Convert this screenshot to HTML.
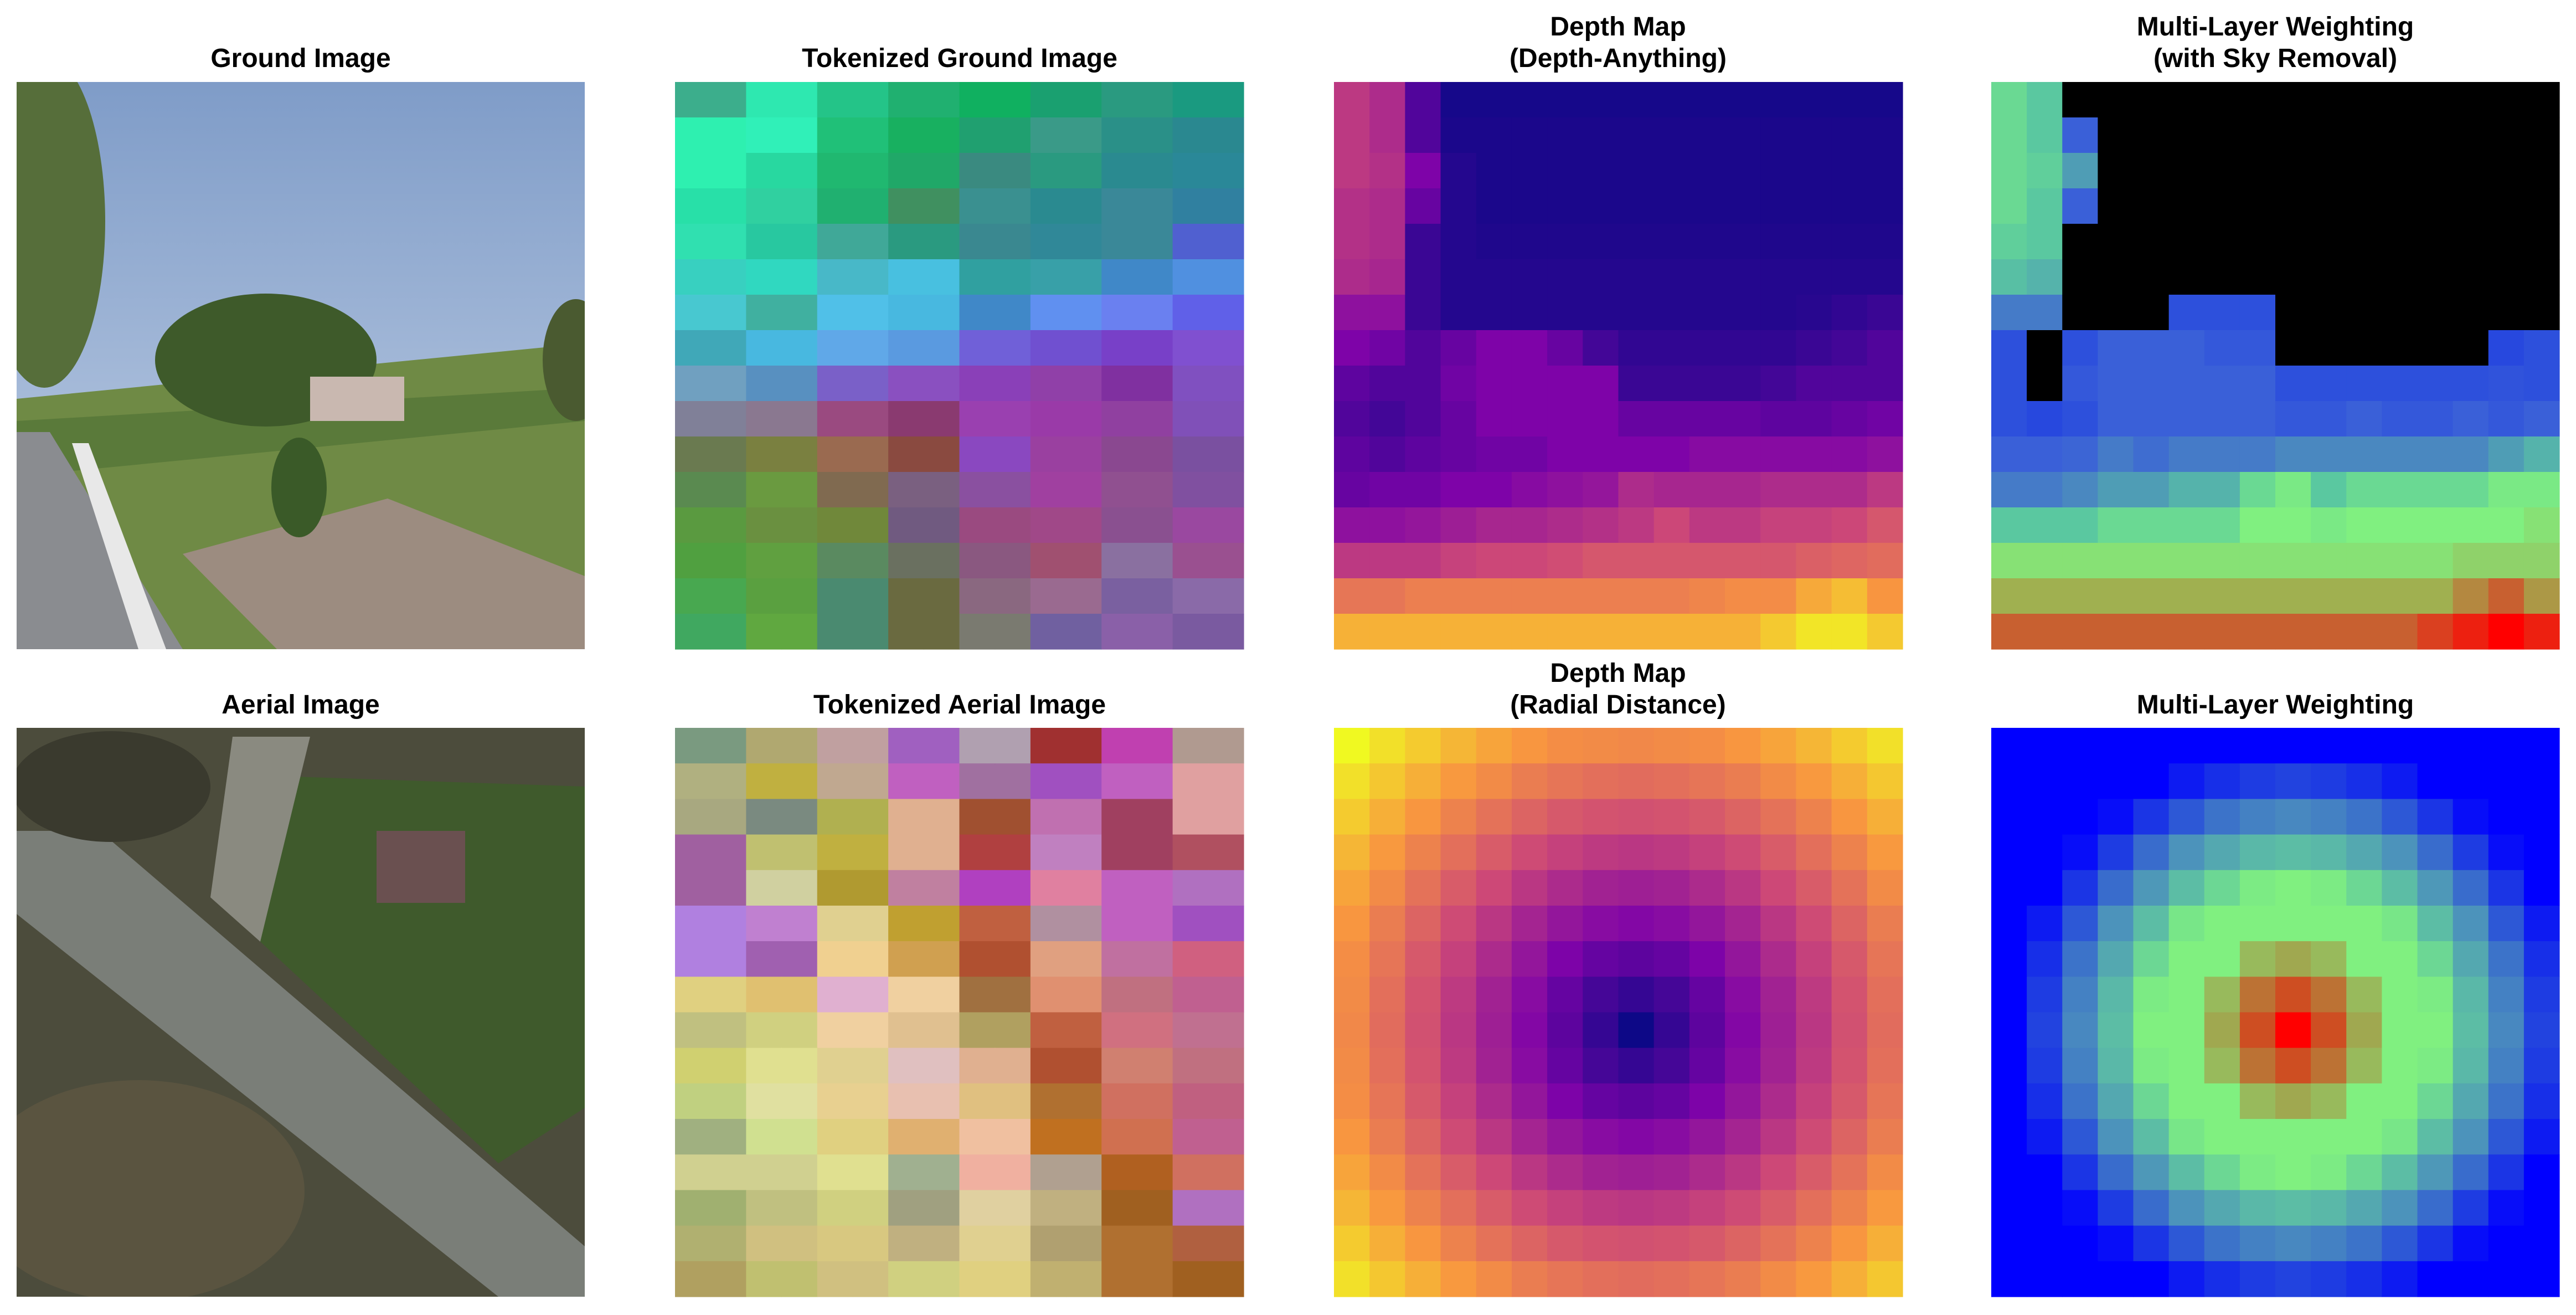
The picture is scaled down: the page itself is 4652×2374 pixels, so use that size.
<!DOCTYPE html>
<html><head><meta charset="utf-8">
<style>
html,body{margin:0;padding:0;background:#fff;}
svg{display:block;}
text{font-family:"Liberation Sans",sans-serif;font-weight:bold;font-size:48px;fill:#000;}
</style></head>
<body>
<svg id="fig" width="4652" height="2374" viewBox="0 0 4652 2374" xmlns="http://www.w3.org/2000/svg">
<rect width="4652" height="2374" fill="#fff"/>
<g id="titles">
<text x="543" y="121" text-anchor="middle">Ground Image</text>
<text x="1733" y="121" text-anchor="middle">Tokenized Ground Image</text>
<text x="2922" y="64" text-anchor="middle">Depth Map</text>
<text x="2922" y="121" text-anchor="middle">(Depth-Anything)</text>
<text x="4109" y="64" text-anchor="middle">Multi-Layer Weighting</text>
<text x="4109" y="121" text-anchor="middle">(with Sky Removal)</text>
<text x="543" y="1288" text-anchor="middle">Aerial Image</text>
<text x="1733" y="1288" text-anchor="middle">Tokenized Aerial Image</text>
<text x="2922" y="1231" text-anchor="middle">Depth Map</text>
<text x="2922" y="1288" text-anchor="middle">(Radial Distance)</text>
<text x="4109" y="1288" text-anchor="middle">Multi-Layer Weighting</text>
</g>
<defs>
<linearGradient id="sky" x1="0" y1="0" x2="0" y2="1"><stop offset="0" stop-color="#7f9cc8"/><stop offset="1" stop-color="#c4d2e6"/></linearGradient>
<clipPath id="c1"><rect x="30" y="148" width="1026" height="1024"/></clipPath>
<clipPath id="c2"><rect x="30" y="1314" width="1026" height="1027"/></clipPath>
</defs>
<g clip-path="url(#c1)">
<rect x="30" y="148" width="1026" height="1024" fill="url(#sky)"/>
<path d="M30 720 L1056 620 L1056 1172 L30 1172Z" fill="#6f8a45"/>
<path d="M30 760 L1056 700 L1056 760 L30 860Z" fill="#5a7a3a"/>
<ellipse cx="480" cy="650" rx="200" ry="120" fill="#3e5a2a"/>
<ellipse cx="80" cy="400" rx="110" ry="300" fill="#566e3a"/>
<ellipse cx="1040" cy="650" rx="60" ry="110" fill="#4a5a30"/>
<rect x="560" y="680" width="170" height="80" fill="#c9b8b0"/>
<path d="M30 1172 L30 780 L90 780 L330 1172Z" fill="#8a8c90"/>
<path d="M130 800 L160 800 L300 1172 L250 1172Z" fill="#e8e8e8"/>
<path d="M330 1000 L700 900 L1056 1040 L1056 1172 L500 1172Z" fill="#9c8c80"/>
<ellipse cx="540" cy="880" rx="50" ry="90" fill="#3a5a28"/>
</g>
<g clip-path="url(#c2)">
<rect x="30" y="1314" width="1026" height="1027" fill="#4c4c3c"/>
<path d="M470 1400 L1056 1420 L1056 2000 L900 2100 L470 1700Z" fill="#3f5a2c"/>
<path d="M30 1500 L180 1500 L1056 2250 L1056 2341 L900 2341 L30 1650Z" fill="#7a7e78"/>
<path d="M420 1330 L560 1330 L470 1700 L380 1620Z" fill="#8a8a80"/>
<rect x="680" y="1500" width="160" height="130" fill="#6a5050"/>
<ellipse cx="250" cy="2150" rx="300" ry="200" fill="#5a5440"/>
<ellipse cx="200" cy="1420" rx="180" ry="100" fill="#3a3a2e"/>
</g>
<g id="cells"></g>
</svg>
<script>
// ---- data ----
const depthAnything = [
[.45,.40,.15,.02,.02,.02,.02,.02,.02,.02,.02,.02,.02,.02,.02,.02],
[.45,.40,.15,.03,.03,.03,.03,.03,.03,.03,.03,.03,.03,.03,.03,.03],
[.45,.42,.25,.05,.03,.03,.03,.03,.03,.03,.03,.03,.03,.03,.03,.03],
[.42,.40,.20,.05,.03,.03,.03,.03,.03,.03,.03,.03,.03,.03,.03,.03],
[.42,.40,.10,.05,.04,.04,.04,.04,.04,.04,.04,.04,.04,.04,.04,.04],
[.40,.38,.10,.05,.05,.05,.05,.05,.05,.05,.05,.05,.05,.05,.05,.05],
[.30,.30,.10,.05,.05,.05,.05,.05,.05,.05,.05,.05,.05,.06,.08,.10],
[.25,.22,.15,.20,.25,.25,.20,.12,.08,.08,.08,.08,.08,.10,.12,.15],
[.18,.15,.15,.22,.25,.25,.25,.25,.10,.10,.10,.10,.12,.15,.15,.15],
[.15,.12,.15,.20,.25,.25,.25,.25,.20,.20,.20,.20,.18,.18,.20,.22],
[.18,.15,.18,.20,.22,.22,.25,.25,.25,.25,.28,.28,.28,.28,.28,.30],
[.20,.22,.22,.25,.25,.28,.30,.32,.40,.38,.38,.38,.40,.40,.40,.45],
[.30,.30,.32,.35,.38,.38,.40,.42,.45,.50,.45,.45,.48,.48,.50,.55],
[.45,.45,.45,.48,.50,.50,.52,.55,.55,.55,.55,.55,.55,.58,.60,.62],
[.65,.65,.68,.68,.68,.68,.68,.68,.68,.68,.70,.72,.72,.80,.85,.75],
[.82,.82,.82,.82,.82,.82,.82,.82,.82,.82,.82,.82,.88,.95,.95,.88]];
const skyWeights = [
[.55,.50,-1,-1,-1,-1,-1,-1,-1,-1,-1,-1,-1,-1,-1,-1],
[.55,.50,.20,-1,-1,-1,-1,-1,-1,-1,-1,-1,-1,-1,-1,-1],
[.55,.52,.40,-1,-1,-1,-1,-1,-1,-1,-1,-1,-1,-1,-1,-1],
[.55,.50,.20,-1,-1,-1,-1,-1,-1,-1,-1,-1,-1,-1,-1,-1],
[.52,.50,-1,-1,-1,-1,-1,-1,-1,-1,-1,-1,-1,-1,-1,-1],
[.48,.45,-1,-1,-1,-1,-1,-1,-1,-1,-1,-1,-1,-1,-1,-1],
[.30,.30,-1,-1,-1,.10,.10,.10,-1,-1,-1,-1,-1,-1,-1,-1],
[.10,-1,.10,.20,.20,.20,.15,.15,-1,-1,-1,-1,-1,-1,.05,.10],
[.10,-1,.15,.20,.20,.20,.20,.20,.10,.10,.10,.10,.10,.10,.12,.10],
[.10,.05,.10,.20,.20,.20,.20,.20,.15,.15,.20,.15,.15,.20,.15,.20],
[.20,.20,.22,.30,.25,.30,.30,.30,.35,.35,.35,.35,.35,.35,.40,.45],
[.30,.30,.35,.40,.40,.45,.45,.55,.60,.50,.55,.55,.55,.55,.60,.60],
[.50,.50,.50,.55,.55,.55,.55,.62,.62,.60,.62,.62,.62,.62,.62,.65],
[.65,.65,.65,.65,.65,.65,.65,.65,.65,.65,.65,.65,.65,.68,.68,.68],
[.75,.75,.75,.75,.75,.75,.75,.75,.75,.75,.75,.75,.75,.80,.85,.78],
[.85,.85,.85,.85,.85,.85,.85,.85,.85,.85,.85,.85,.90,.95,1,.95]];
const radialLevels = [
[11.3,10.6,10,9.4,8.9,8.5,8.2,8.1,8,8.1,8.2,8.5,8.9,9.4,10,10.6],
[10.6,9.9,9.2,8.6,8.1,7.6,7.3,7.1,7,7.1,7.3,7.6,8.1,8.6,9.2,9.9],
[10,9.2,8.5,7.8,7.2,6.7,6.3,6.1,6,6.1,6.3,6.7,7.2,7.8,8.5,9.2],
[9.4,8.6,7.8,7.1,6.4,5.8,5.4,5.1,5,5.1,5.4,5.8,6.4,7.1,7.8,8.6],
[8.9,8.1,7.2,6.4,5.7,5,4.5,4.1,4,4.1,4.5,5,5.7,6.4,7.2,8.1],
[8.5,7.6,6.7,5.8,5,4.2,3.6,3.2,3,3.2,3.6,4.2,5,5.8,6.7,7.6],
[8.2,7.3,6.3,5.4,4.5,3.6,2.8,2.2,2,2.2,2.8,3.6,4.5,5.4,6.3,7.3],
[8.1,7.1,6.1,5.1,4.1,3.2,2.2,1.4,1,1.4,2.2,3.2,4.1,5.1,6.1,7.1],
[8,7,6,5,4,3,2,1,0,1,2,3,4,5,6,7],
[8.1,7.1,6.1,5.1,4.1,3.2,2.2,1.4,1,1.4,2.2,3.2,4.1,5.1,6.1,7.1],
[8.2,7.3,6.3,5.4,4.5,3.6,2.8,2.2,2,2.2,2.8,3.6,4.5,5.4,6.3,7.3],
[8.5,7.6,6.7,5.8,5,4.2,3.6,3.2,3,3.2,3.6,4.2,5,5.8,6.7,7.6],
[8.9,8.1,7.2,6.4,5.7,5,4.5,4.1,4,4.1,4.5,5,5.7,6.4,7.2,8.1],
[9.4,8.6,7.8,7.1,6.4,5.8,5.4,5.1,5,5.1,5.4,5.8,6.4,7.1,7.8,8.6],
[10,9.2,8.5,7.8,7.2,6.7,6.3,6.1,6,6.1,6.3,6.7,7.2,7.8,8.5,9.2],
[10.6,9.9,9.2,8.6,8.1,7.6,7.3,7.1,7,7.1,7.3,7.6,8.1,8.6,9.2,9.9]];
const tokGround = [
["#3cae8c","#2ee8b0","#24c488","#20b070","#10b060","#1aa070","#2a9a80","#1a9a80"],
["#2ef0b0","#30f0b8","#20c078","#18b060","#20a070","#3a9a88","#2a9088","#2a8890"],
["#2ef0b0","#28d8a0","#20b870","#20a868","#3a8a80","#2a9a80","#2a8a90","#2a8898"],
["#28e0a8","#30d0a0","#20b070","#409060","#3a9090","#2a8a90","#3a8898","#3080a0"],
["#30e0b0","#28c8a0","#40a898","#2a9a80","#3a8890","#308898","#3a8898","#5060d0"],
["#38d0c0","#30d8c0","#48b8c8","#48c0e0","#30a0a0","#38a0a8","#4088c8","#5090e0"],
["#48c8d0","#40b0a0","#50c0e8","#48b8e0","#4088c8","#6090f0","#6a80f0","#6060e8"],
["#40a8b8","#48b8e0","#60a8e8","#5a9ae0","#7060d8","#7050d0","#7840c8","#8050d0"],
["#70a0c0","#5890c0","#7a60c8","#8a50c0","#8a40b8","#9040a8","#8030a0","#8050c0"],
["#808098","#8a7890","#9a4a80","#8a3a70","#9a40b0","#9a3aa8","#9040a0","#8050b8"],
["#6a7a50","#7a8040","#9a6a50","#8a4a40","#8a48c0","#9a40a0","#8a4890","#7a50a0"],
["#5a8a50","#6a9a40","#806a50","#7a6080","#8a50a0","#a040a0","#905090","#8050a0"],
["#5a9a40","#6a9040","#70883a","#705a80","#9a4a80","#a04888","#8a5090","#9a48a0"],
["#50a040","#60a040","#5a8a60","#6a7060","#8a5880","#a05070","#8a70a0","#9a5090"],
["#48a850","#5aa040","#4a8a70","#6a6a40","#8a6880","#9a6a90","#7a60a0","#8a6aa8"],
["#40a860","#60a840","#4a8a70","#6a6a40","#7a7a70","#7060a0","#8a60a8","#7a5aa0"]];
const tokAerial = [
["#7a9a80","#b0a870","#c0a0a0","#a060c0","#b0a0b0","#a03030","#c040b0","#b09a90"],
["#b0b080","#c0b040","#c0a890","#c060c0","#a070a0","#a050c0","#c060c0","#e0a0a0"],
["#a8a880","#7a8a80","#b0b050","#e0b090","#a05030","#c070b0","#a04060","#e0a0a0"],
["#a060a0","#c0c070","#c0b040","#e0b090","#b04040","#c080c0","#a04060","#b05060"],
["#a060a0","#d0d0a0","#b09a30","#c080a0","#b040c0","#e080a0","#c060c0","#b070c0"],
["#b080e0","#c080d0","#e0d090","#c0a030","#c06040","#b090a0","#c060c0","#a050c0"],
["#b080e0","#a060b0","#f0d090","#d0a050","#b05030","#e0a080","#c070a0","#d06080"],
["#e0d080","#e0c070","#e0b0d0","#f0d0a0","#a07040","#e09070","#c07080","#c06090"],
["#c0c080","#d0d080","#f0d0a0","#e0c090","#b0a060","#c06040","#d07080","#c07090"],
["#d0d070","#e0e090","#e0d090","#e0c0c0","#e0b090","#b05030","#d08070","#c07080"],
["#c0d080","#e0e0a0","#e8d090","#e8c0b0","#e0c080","#b07030","#d07060","#c06080"],
["#a0b080","#d0e090","#e0d080","#e0b070","#f0c0a0","#c07020","#d07050","#c06090"],
["#d0d090","#d0d090","#e0e090","#a0b090","#f0b0a0","#b0a090","#b06020","#d07060"],
["#a0b070","#c0c080","#d0d080","#a0a080","#e0d0a0","#c0b080","#a06020","#b070c0"],
["#b0b070","#d0c080","#d8c880","#c0b080","#e0d090","#b0a070","#b07030","#b06040"],
["#b0a060","#c0c070","#d0c080","#d0d080","#e0d080","#c0b070","#b07030","#a06020"]];
// ---- rendering ----
const NS='http://www.w3.org/2000/svg';
const root=document.getElementById('cells');
function lerpHex(a,b,t){const p=h=>[1,3,5].map(i=>parseInt(h.substr(i,2),16));const A=p(a),B=p(b);return 'rgb('+A.map((v,i)=>Math.round(v+(B[i]-v)*t)).join(',')+')';}
function cmap(stops,v){v=Math.max(0,Math.min(1,v));for(let i=1;i<stops.length;i++){if(v<=stops[i][0]){const t=(v-stops[i-1][0])/(stops[i][0]-stops[i-1][0]);return lerpHex(stops[i-1][1],stops[i][1],t);}}return stops[stops.length-1][1];}
const plasma=[[0,'#0d0887'],[.25,'#7e03a8'],[.5,'#cc4778'],[.75,'#f89540'],[1,'#f0f921']];
const wcm=[[0,'#0000ff'],[.12,'#2040e0'],[.25,'#4888c0'],[.4,'#60c8a0'],[.5,'#80f080'],[.65,'#80f080'],[.75,'#a0a850'],[.88,'#d04a20'],[1,'#ff0000']];
const skycm=[[0,'#2040e0'],[.2,'#3a60d8'],[.35,'#4a88c0'],[.5,'#5ac8a0'],[.62,'#80f080'],[.75,'#a0b050'],[.85,'#c86030'],[1,'#ff0000']];
function panel(name,x0,y0,w,h,rows,cols,colorFn){
  const g=document.createElementNS(NS,'g');
  
  
  const cw=w/cols,ch=h/rows;
  for(let r=0;r<rows;r++)for(let c=0;c<cols;c++){
    const e=document.createElementNS(NS,'rect');
    
    
    e.setAttribute('x',(x0+c*cw).toFixed(2));e.setAttribute('y',(y0+r*ch).toFixed(2));
    e.setAttribute('width',(cw+0.6).toFixed(2));e.setAttribute('height',(ch+0.6).toFixed(2));
    e.setAttribute('fill',colorFn(r,c));g.appendChild(e);}
  root.appendChild(g);}
panel('tokenized-ground-image',1219,148,1027,1024,tokGround.length,16,(r,c)=>tokGround[r][Math.floor(c/2)]);
panel('depth-anything-map',2409,148,1027,1024,depthAnything.length,16,(r,c)=>cmap(plasma,depthAnything[r][c]));
panel('sky-removal-weighting',3596,148,1026,1024,skyWeights.length,16,(r,c)=>skyWeights[r][c]<0?'#000000':cmap(skycm,skyWeights[r][c]));
panel('tokenized-aerial-image',1219,1314,1027,1027,tokAerial.length,16,(r,c)=>tokAerial[r][Math.floor(c/2)]);
panel('radial-depth-map',2409,1314,1027,1027,radialLevels.length,16,(r,c)=>cmap(plasma,radialLevels[r][c]/11.3));
panel('aerial-weighting',3596,1314,1026,1027,radialLevels.length,16,(r,c)=>cmap(wcm,Math.max(0,1-radialLevels[r][c]/8)));
</script>
</body></html>
